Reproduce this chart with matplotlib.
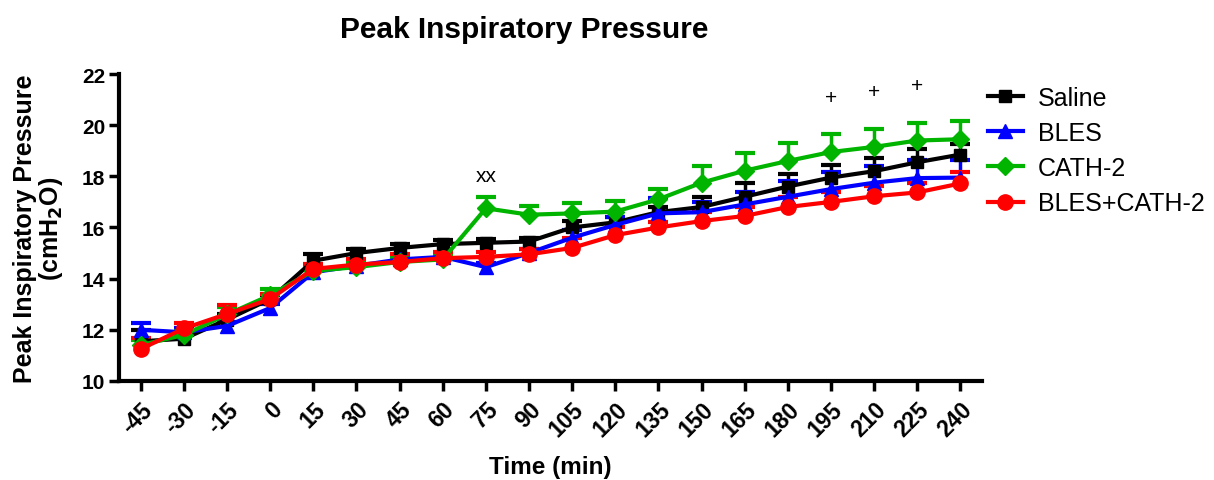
import numpy as np
import matplotlib
matplotlib.use("Agg")
import matplotlib.pyplot as plt

plt.rcParams['font.family'] = ['Liberation Sans', 'DejaVu Sans']

time_min = [-45, -30, -15, 0, 15, 30, 45, 60, 75, 90, 105, 120, 135, 150, 165, 180, 195, 210, 225, 240]

saline = [11.55, 11.65, 12.4, 13.2, 14.7, 15.0, 15.2, 15.35, 15.4, 15.45, 16.0, 16.2, 16.6, 16.8, 17.2, 17.6, 17.95, 18.2, 18.55, 18.85]
saline_err = [0.45, 0.15, 0.2, 0.15, 0.25, 0.15, 0.15, 0.15, 0.15, 0.15, 0.25, 0.2, 0.2, 0.4, 0.55, 0.5, 0.5, 0.5, 0.5, 0.4]

bles = [12.0, 11.9, 12.15, 12.85, 14.25, 14.5, 14.75, 14.85, 14.45, 15.0, 15.6, 16.1, 16.55, 16.6, 16.9, 17.2, 17.5, 17.75, 17.93, 17.95]
bles_err = [0.27, 0.15, 0.15, 0.15, 0.15, 0.15, 0.15, 0.15, 0.15, 0.15, 0.3, 0.3, 0.6, 0.4, 0.5, 0.6, 0.65, 0.65, 0.7, 0.7]

cath2 = [11.4, 11.8, 12.6, 13.35, 14.3, 14.45, 14.65, 14.75, 16.75, 16.5, 16.55, 16.62, 17.1, 17.75, 18.22, 18.6, 18.95, 19.15, 19.4, 19.45]
cath2_err = [0.2, 0.15, 0.3, 0.25, 0.15, 0.15, 0.15, 0.15, 0.45, 0.35, 0.42, 0.43, 0.4, 0.65, 0.7, 0.72, 0.72, 0.72, 0.7, 0.7]

bles_cath2 = [11.25, 12.05, 12.62, 13.2, 14.38, 14.55, 14.65, 14.8, 14.85, 14.95, 15.2, 15.7, 16.0, 16.25, 16.45, 16.8, 17.0, 17.22, 17.37, 17.72]
bles_cath2_err = [0.42, 0.22, 0.35, 0.2, 0.2, 0.2, 0.3, 0.25, 0.2, 0.2, 0.38, 0.32, 0.2, 0.35, 0.35, 0.38, 0.38, 0.4, 0.38, 0.45]

series_names = ['Saline', 'BLES', 'CATH-2', 'BLES+CATH-2']
series_values = [saline, bles, cath2, bles_cath2]
series_errors = [saline_err, bles_err, cath2_err, bles_cath2_err]
series_colors = ['#000000', '#0000ff', '#00b400', '#ff0000']
series_markers = ['s', '^', 'D', 'o']
series_msize = [9, 9.5, 9, 11]

# significance marks: (time, y, text)
sig_times = [75, 195, 210, 225]
sig_y = [18.05, 21.1, 21.3, 21.55]
sig_text = ['xx', '+', '+', '+']

fig = plt.figure(figsize=(12.14, 4.81), dpi=100)
ax = fig.add_axes([0.098, 0.206, 0.711, 0.638])

handles = []
for name, vals, errs, col, mk, ms in zip(series_names, series_values, series_errors,
                                          series_colors, series_markers, series_msize):
    vals = np.asarray(vals)
    errs = np.asarray(errs)
    line, caps, bars = ax.errorbar(time_min, vals, yerr=[np.zeros_like(errs), errs],
                                   color=col, marker=mk, markersize=ms, linewidth=3,
                                   elinewidth=2.5, capsize=7, capthick=3)
    caps[0].set_visible(False)
    handles.append(line)

for t, y, s in zip(sig_times, sig_y, sig_text):
    ax.text(t, y, s, ha='center', va='center', fontsize=15, color='#000000')

ax.set_xlim(-52.6, 247.6)
ax.set_ylim(10, 22)
ax.set_xticks(time_min)
ax.set_xticklabels([str(t) for t in time_min], rotation=45, ha='right',
                   rotation_mode='anchor', fontsize=16.5, fontweight='bold')
ax.set_yticks(np.arange(10, 23, 2))
ax.set_yticklabels([str(v) for v in range(10, 23, 2)], fontsize=15, fontweight='bold')
ax.tick_params(axis='both', direction='out', length=7, width=2.5)
ax.tick_params(axis='x', pad=5)
ax.tick_params(axis='y', pad=3)

for side in ['top', 'right']:
    ax.spines[side].set_visible(False)
for side in ['left', 'bottom']:
    ax.spines[side].set_linewidth(3)

ax.set_xlabel('Time (min)', fontsize=17.5, fontweight='bold', labelpad=10)
ax.set_ylabel('Peak Inspiratory Pressure\n(cmH$_\\mathbf{2}$O)', fontsize=18,
              fontweight='bold', labelpad=12, linespacing=1.0)
ax.set_title('Peak Inspiratory Pressure', fontsize=21.5, fontweight='bold', pad=27, x=0.47)

leg = ax.legend(handles=handles, labels=series_names, loc='upper left',
                bbox_to_anchor=(0.995, 0.995), frameon=False, fontsize=18,
                handlelength=1.4, handletextpad=0.6, labelspacing=0.45,
                borderaxespad=0.0)

fig.savefig('out.png', dpi=100)
